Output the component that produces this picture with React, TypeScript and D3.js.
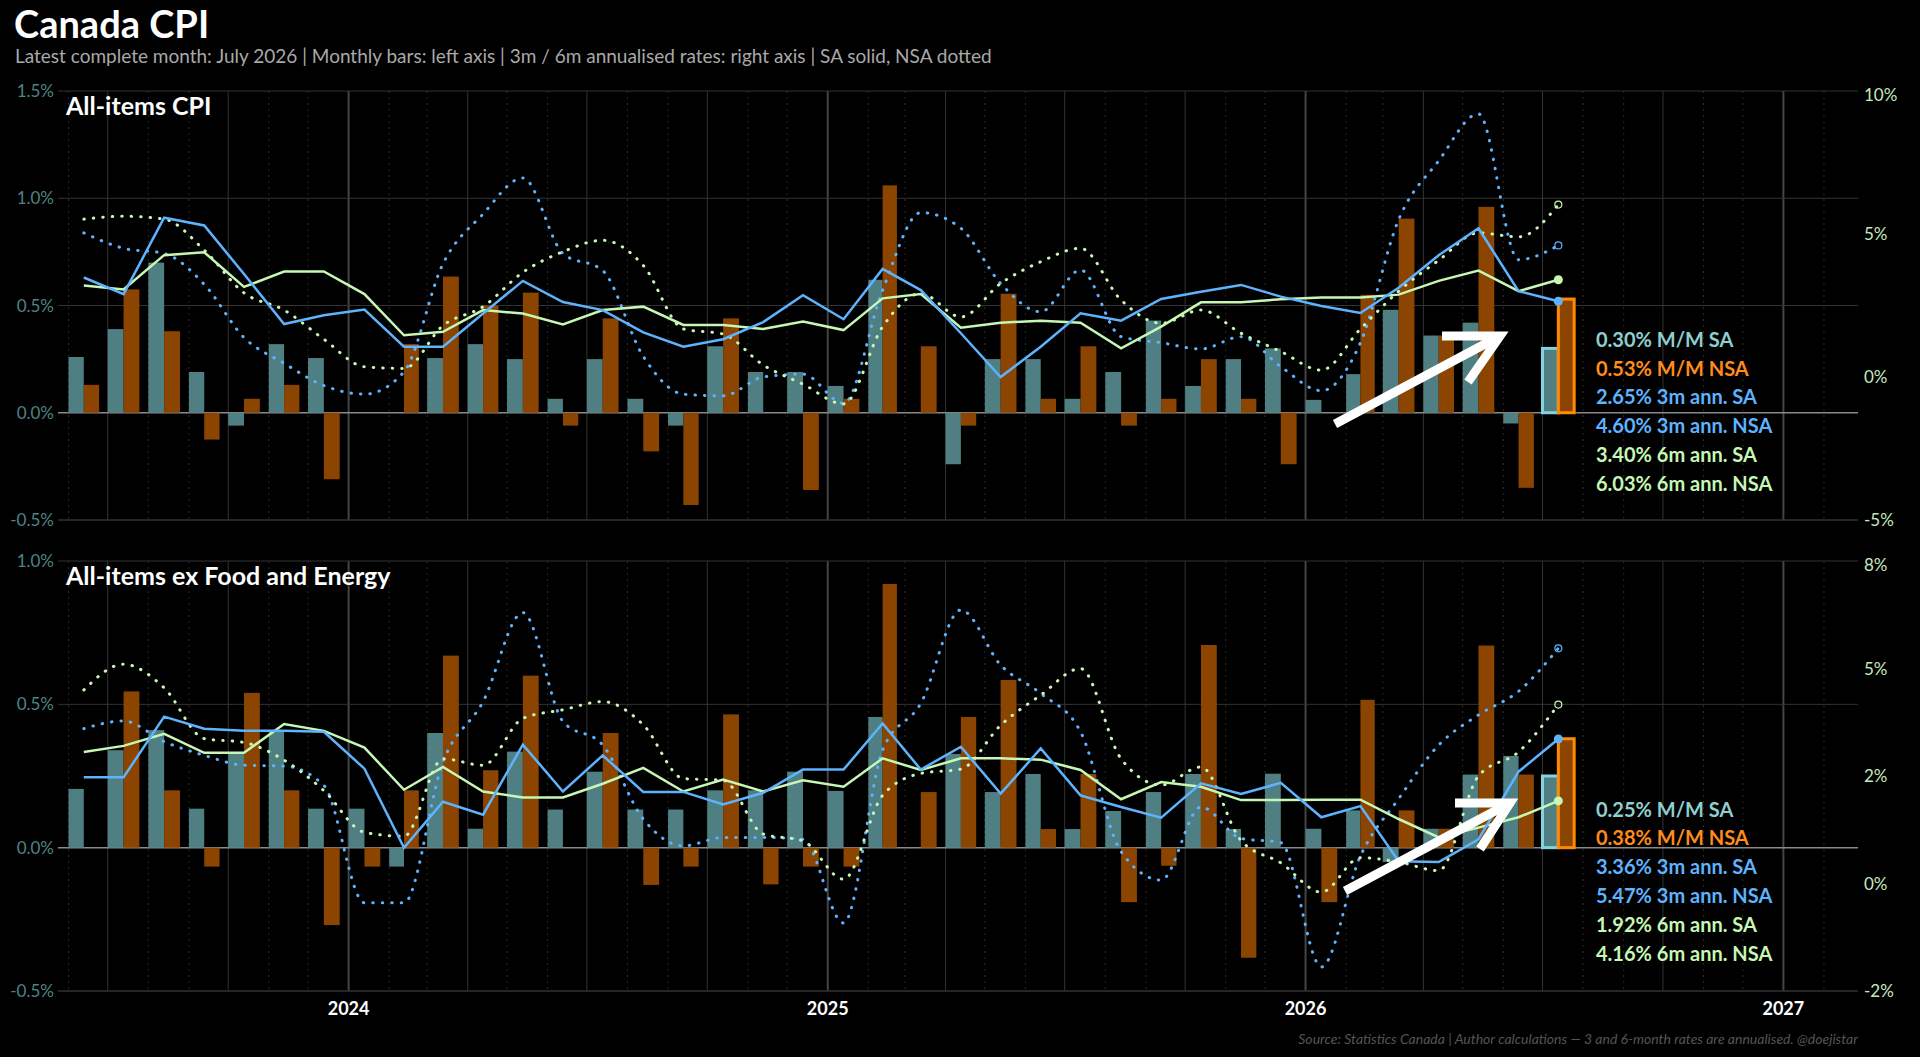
import * as d3 from "d3";

// months Jun 2023 .. Jul 2026
const months = d3.timeMonths(new Date(2023, 5, 1), new Date(2026, 7, 1));

// ---- All-items CPI ----
const allSaMoM = [0.26, 0.39, 0.70, 0.19, -0.06, 0.32, 0.255, 0, 0, 0.255, 0.32, 0.25, 0.065, 0.25, 0.065, -0.06, 0.31, 0.19, 0.19, 0.125, 0.62, 0, -0.24, 0.25, 0.25, 0.065, 0.19, 0.43, 0.125, 0.25, 0.30, 0.06, 0.18, 0.48, 0.36, 0.42, -0.05, 0.30];
const allNsaMoM = [0.13, 0.575, 0.38, -0.125, 0.065, 0.13, -0.31, 0, 0.32, 0.635, 0.50, 0.56, -0.06, 0.44, -0.18, -0.43, 0.44, 0, -0.36, 0.065, 1.06, 0.31, -0.06, 0.555, 0.065, 0.31, -0.06, 0.065, 0.25, 0.065, -0.24, 0, 0.55, 0.905, 0.36, 0.96, -0.35, 0.53];
const allSa3m = [3.48, 2.9, 5.57, 5.3, 3.6, 1.85, 2.16, 2.36, 1.06, 1.06, 2.22, 3.36, 2.62, 2.34, 1.56, 1.06, 1.32, 1.92, 2.86, 2.02, 3.78, 3.04, 1.53, 0.0, 1.06, 2.23, 1.97, 2.73, 2.98, 3.22, 2.81, 2.48, 2.24, 3.12, 4.26, 5.2, 3.0, 2.65];
const allSa6m = [3.2, 3.06, 4.26, 4.36, 3.15, 3.69, 3.69, 2.9, 1.46, 1.58, 2.34, 2.22, 1.84, 2.34, 2.46, 1.82, 1.82, 1.68, 1.94, 1.64, 2.75, 2.9, 1.72, 1.9, 1.97, 1.9, 1.0, 1.76, 2.61, 2.61, 2.72, 2.78, 2.78, 2.88, 3.36, 3.72, 3.0, 3.40];
const allNsa3m = [5.04, 4.5, 4.32, 3.24, 1.38, 0.48, -0.3, -0.6, 0.18, 3.96, 5.7, 6.96, 4.32, 3.72, 0.72, -0.6, -0.66, 0.0, 0.1, -0.92, 3.04, 5.75, 5.2, 3.27, 2.28, 3.74, 1.41, 1.2, 0.98, 1.41, 0.36, -0.48, 1.2, 5.5, 7.56, 9.2, 4.1, 4.60];
const allNsa6m = [5.52, 5.62, 5.52, 4.44, 2.94, 2.34, 1.32, 0.36, 0.3, 1.8, 2.46, 3.66, 4.38, 4.78, 3.9, 1.68, 1.5, 0.42, -0.25, -0.94, 1.76, 2.92, 2.1, 3.27, 4.03, 4.5, 2.69, 1.88, 2.34, 1.53, 0.89, 0.24, 1.68, 3.0, 4.08, 5.04, 4.9, 6.03];

// ---- ex Food and Energy ----
const coreSaMoM = [0.205, 0.34, 0.41, 0.136, 0.33, 0.41, 0.136, 0.136, -0.066, 0.40, 0.066, 0.335, 0.133, 0.265, 0.133, 0.133, 0.2, 0.2, 0.265, 0.198, 0.456, 0, 0.327, 0.194, 0.257, 0.065, 0.128, 0.194, 0.257, 0.065, 0.258, 0.066, 0.13, -0.05, 0.066, 0.255, 0.32, 0.25];
const coreNsaMoM = [0, 0.545, 0.2, -0.066, 0.54, 0.2, -0.27, -0.066, 0.2, 0.67, 0.27, 0.60, 0, 0.40, -0.13, -0.066, 0.465, -0.128, -0.066, -0.066, 0.92, 0.194, 0.456, 0.585, 0.065, 0.257, -0.19, -0.063, 0.707, -0.384, 0, -0.19, 0.516, 0.13, 0.066, 0.705, 0.255, 0.38];
const coreSa3m = [2.47, 2.47, 3.88, 3.6, 3.55, 3.55, 3.53, 2.67, 0.83, 1.9, 1.6, 3.23, 2.14, 2.98, 2.13, 2.13, 1.84, 2.11, 2.65, 2.65, 3.72, 2.65, 3.18, 2.09, 3.14, 2.05, 1.78, 1.53, 2.33, 2.08, 2.34, 1.54, 1.8, 0.52, 0.5, 1.03, 2.6, 3.36];
const coreSa6m = [3.06, 3.2, 3.48, 3.04, 3.04, 3.71, 3.55, 3.16, 2.18, 2.71, 2.14, 2.0, 2.0, 2.32, 2.69, 2.14, 2.42, 2.14, 2.4, 2.25, 2.91, 2.64, 2.91, 2.91, 2.88, 2.64, 1.96, 2.36, 2.25, 1.94, 1.94, 1.95, 1.95, 1.5, 1.07, 1.3, 1.54, 1.92];
const coreNsa3m = [3.6, 3.78, 3.3, 2.98, 2.75, 2.73, 2.28, -0.45, -0.45, 2.83, 4.23, 6.3, 3.77, 3.22, 1.5, 0.875, 1.07, 1.07, 1.03, -0.92, 3.1, 4.19, 6.36, 5.08, 4.42, 3.53, 0.74, 0.08, 1.78, 1.05, 0.95, -1.94, 0.64, 1.97, 3.22, 3.92, 4.47, 5.47];
const coreNsa6m = [4.5, 5.1, 4.55, 3.37, 3.28, 2.87, 2.16, 1.19, 1.1, 2.9, 2.75, 3.84, 4.04, 4.23, 3.69, 2.44, 2.4, 1.15, 0.99, 0.1, 2.05, 2.56, 2.66, 3.68, 4.38, 5.0, 2.9, 2.29, 2.71, 1.0, 0.48, -0.2, 0.6, 0.5, 0.3, 2.5, 3.06, 4.16];

// axis ticks
const allLeftTicks = [-0.5, 0, 0.5, 1.0, 1.5];
const allRightTicks = [-5, 0, 5, 10];
const allRightLabels = ["-5%", "0%", "5%", "10%"];
const coreLeftTicks = [-0.5, 0, 0.5, 1.0];
const coreRightTicks = [-2.5, 0, 2.5, 5, 7.5];
const coreRightLabels = ["-2%", "0%", "2%", "5%", "8%"];
const yearTicks = [2024, 2025, 2026, 2027];

const W = 1920, H = 1057;
const L = 58, R = 1858;
const C = {
  sa: "#4f7f82", nsa: "#8b4500", blue: "#5eb3ff", green: "#c6f7b4",
  saText: "#8fcfcf", nsaText: "#ff8c1a", leftTick: "#4f8486", rightTick: "#c6e8bf",
};

const x = d3.scaleTime().domain([new Date(2023, 4, 24), new Date(2027, 1, 27)]).range([L, R]);

function Panel(props: {
  top: number; bottom: number; title: string; labOffset: number;
  leftDom: [number, number]; rightDom: [number, number];
  leftTicks: number[]; rightTicks: number[]; rightLabels: string[];
  saMoM: number[]; nsaMoM: number[]; sa3: number[]; sa6: number[]; nsa3: number[]; nsa6: number[];
  arrow: { tail: [number, number]; tip: [number, number]; a1: [number, number]; a2: [number, number] };
}) {
  const { top, bottom } = props;
  const yl = d3.scaleLinear().domain(props.leftDom).range([bottom, top]);
  const yr = d3.scaleLinear().domain(props.rightDom).range([bottom, top]);
  const n = months.length;
  const bx = (i: number) => x(months[i]);
  const bw = (i: number) => (x(d3.timeMonth.offset(months[i], 1)) - x(months[i])) * 0.39;
  const px = (i: number) => bx(i) + bw(i);
  const idx = d3.range(n);
  const solid = d3.line<number>().x(px).curve(d3.curveLinear);
  const dotted = d3.line<number>().x(px).curve(d3.curveMonotoneX);
  const mkPath = (gen: d3.Line<number>, vals: number[]) => gen.y((i) => yr(vals[i]))(idx) || "";
  const allMonths = d3.timeMonths(new Date(2023, 5, 1), new Date(2027, 2, 1));
  const last = n - 1;
  const lab = [
    { t: `${props.saMoM[last].toFixed(2)}% M/M SA`, c: C.saText },
    { t: `${props.nsaMoM[last].toFixed(2)}% M/M NSA`, c: C.nsaText },
    { t: `${props.sa3[last].toFixed(2)}% 3m ann. SA`, c: C.blue },
    { t: `${props.nsa3[last].toFixed(2)}% 3m ann. NSA`, c: C.blue },
    { t: `${props.sa6[last].toFixed(2)}% 6m ann. SA`, c: C.green },
    { t: `${props.nsa6[last].toFixed(2)}% 6m ann. NSA`, c: C.green },
  ];
  const labTop = yl(0) - props.labOffset;
  const a = props.arrow;
  return (
    <g>
      {allMonths.map((m, i) => {
        const isYear = m.getMonth() === 0;
        const isQ = m.getMonth() % 3 === 0;
        return (
          <line key={i} x1={x(m)} x2={x(m)} y1={top} y2={bottom}
            stroke={isYear ? "#444" : isQ ? "#333" : "#2a2a2a"}
            strokeWidth={isYear ? 2 : 1}
            strokeDasharray={isQ ? undefined : "2,4"} />
        );
      })}
      {props.leftTicks.map((t) => (
        <g key={t}>
          <line x1={L} x2={R} y1={yl(t)} y2={yl(t)} stroke={t === 0 ? "#8a8a8a" : "#333"} strokeWidth={t === 0 ? 1.5 : 1} />
          <text x={L - 4} y={yl(t) + 6} textAnchor="end" fill={C.leftTick} fontSize={17}>{t.toFixed(1)}%</text>
        </g>
      ))}
      <line x1={L} x2={R} y1={bottom} y2={bottom} stroke="#333" />
      {props.rightTicks.map((t, i) => (
        <text key={t} x={R + 6} y={Math.min(Math.max(yr(t) + 6, top + 10), bottom + 8)} fill={C.rightTick} fontSize={17}>{props.rightLabels[i]}</text>
      ))}
      {idx.map((i) => (
        <g key={i}>
          <rect x={bx(i)} width={bw(i)} y={Math.min(yl(props.saMoM[i]), yl(0))}
            height={Math.abs(yl(props.saMoM[i]) - yl(0))} fill={C.sa}
            stroke={i === last ? "#7fd4e0" : "none"} strokeWidth={3} />
          <rect x={bx(i) + bw(i)} width={bw(i)} y={Math.min(yl(props.nsaMoM[i]), yl(0))}
            height={Math.abs(yl(props.nsaMoM[i]) - yl(0))} fill={C.nsa}
            stroke={i === last ? "#ff8c00" : "none"} strokeWidth={3} />
        </g>
      ))}
      <path d={mkPath(dotted, props.nsa3)} fill="none" stroke={C.blue} strokeWidth={3} strokeDasharray="0.5,9" strokeLinecap="round" />
      <path d={mkPath(dotted, props.nsa6)} fill="none" stroke={C.green} strokeWidth={3} strokeDasharray="0.5,9" strokeLinecap="round" />
      <path d={mkPath(solid, props.sa6)} fill="none" stroke={C.green} strokeWidth={2.5} />
      <path d={mkPath(solid, props.sa3)} fill="none" stroke={C.blue} strokeWidth={2.5} />
      <circle cx={px(last)} cy={yr(props.sa3[last])} r={4.5} fill={C.blue} />
      <circle cx={px(last)} cy={yr(props.sa6[last])} r={4.5} fill={C.green} />
      <circle cx={px(last)} cy={yr(props.nsa3[last])} r={3.5} fill="none" stroke={C.blue} strokeWidth={1.2} />
      <circle cx={px(last)} cy={yr(props.nsa6[last])} r={3.5} fill="none" stroke={C.green} strokeWidth={1.2} />
      <g stroke="white" strokeWidth={9} fill="none" strokeLinecap="butt">
        <line x1={a.tail[0]} y1={a.tail[1]} x2={a.tip[0]} y2={a.tip[1]} />
        <polyline points={`${a.a1[0]},${a.a1[1]} ${a.tip[0]},${a.tip[1]} ${a.a2[0]},${a.a2[1]}`} strokeLinejoin="miter" />
      </g>
      {lab.map((l, i) => (
        <text key={i} x={1596} y={labTop + i * 28.8} fill={l.c} fontSize={20} fontWeight={700}>{l.t}</text>
      ))}
      <text x={66} y={top + 24} fill="white" fontSize={25} fontWeight={700}>{props.title}</text>
    </g>
  );
}

export default function App() {
  return (
    <svg width={W} height={H} style={{ position: "absolute", left: 0, top: 0, background: "#000", fontFamily: "Lato, 'DejaVu Sans', sans-serif" }}>
      <rect width={W} height={H} fill="#000" />
      <text x={14} y={38} fill="white" fontSize={38} fontWeight={700}>Canada CPI</text>
      <text x={15} y={63} fill="#a9a9a9" fontSize={19}>Latest complete month: July 2026 | Monthly bars: left axis | 3m / 6m annualised rates: right axis | SA solid, NSA dotted</text>
      <Panel top={91} bottom={520} title="All-items CPI" labOffset={66}
        leftDom={[-0.5, 1.5]} rightDom={[-5, 10]} leftTicks={allLeftTicks} rightTicks={allRightTicks} rightLabels={allRightLabels}
        saMoM={allSaMoM} nsaMoM={allNsaMoM} sa3={allSa3m} sa6={allSa6m} nsa3={allNsa3m} nsa6={allNsa6m}
        arrow={{ tail: [1335, 424], tip: [1500, 336], a1: [1442, 336], a2: [1468, 382] }} />
      <Panel top={561} bottom={991} title="All-items ex Food and Energy" labOffset={31}
        leftDom={[-0.5, 1.0]} rightDom={[-2.5, 7.5]} leftTicks={coreLeftTicks} rightTicks={coreRightTicks} rightLabels={coreRightLabels}
        saMoM={coreSaMoM} nsaMoM={coreNsaMoM} sa3={coreSa3m} sa6={coreSa6m} nsa3={coreNsa3m} nsa6={coreNsa6m}
        arrow={{ tail: [1345, 891], tip: [1510, 803], a1: [1455, 803], a2: [1480, 849] }} />
      {yearTicks.map((yr) => (
        <text key={yr} x={x(new Date(yr, 0, 1))} y={1015} textAnchor="middle" fill="white" fontSize={18} fontWeight={700}>{yr}</text>
      ))}
      <text x={R} y={1044} textAnchor="end" fill="#555" fontSize={14} fontStyle="italic">Source: Statistics Canada | Author calculations — 3 and 6-month rates are annualised. @doejistar</text>
    </svg>
  );
}
